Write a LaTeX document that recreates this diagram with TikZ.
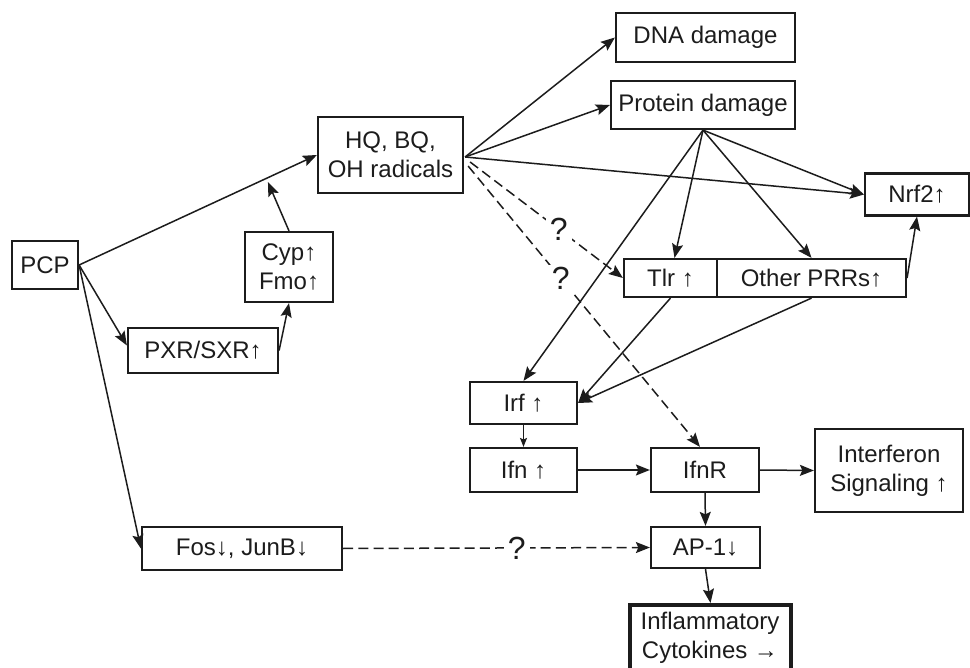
\documentclass[tikz,border=0pt]{standalone}
\usepackage{fontspec}
\setmainfont{Liberation Sans}
\usetikzlibrary{arrows.meta}
\definecolor{ink}{HTML}{1C1C1C}
\begin{document}
\begin{tikzpicture}[x=0.5pt,y=-0.5pt,
  box/.style={draw=ink, line width=1.1pt, inner sep=0pt, align=center,
    font=\fontsize{12}{14.5}\selectfont, text=ink},
  arr/.style={draw=ink, line width=0.75pt,
    -{Stealth[length=7pt,width=5.5pt,inset=1.2pt]}},
  arrsmall/.style={draw=ink, line width=0.6pt,
    -{Stealth[length=4.5pt,width=3.5pt,inset=0.8pt]}},
  dsh/.style={arr, dash pattern=on 5pt off 2.6pt},
  qm/.style={fill=white, inner xsep=2pt, inner ysep=1pt,
    font=\fontsize{16}{16}\selectfont, text=ink}]
\useasboundingbox (0,0) rectangle (970,668);
\clip (0,0) rectangle (970,668);
\fill[white] (0,0) rectangle (970,668);

% nodes
\node[box, minimum width=33pt, minimum height=24pt] (pcp) at (45,265) {PCP};
\node[box, minimum width=75pt, minimum height=22.5pt] (pxr) at (203,350.5) {PXR/SXR↑};
\node[box, minimum width=44pt, minimum height=35pt] (cyp) at (289,267) {Cyp↑\\Fmo↑};
\node[box, minimum width=72.5pt, minimum height=38pt] (hq) at (390.5,155) {HQ, BQ,\\OH radicals};
\node[box, minimum width=89.5pt, minimum height=24.5pt] (dna) at (705.5,37.5) {DNA damage};
\node[box, minimum width=92pt, minimum height=24pt] (prot) at (703,105) {Protein damage};
\node[box, minimum width=52pt, minimum height=21pt] (nrf) at (917,194.5) {Nrf2↑};
\node[box, minimum width=46.5pt, minimum height=19pt] (tlr) at (670.5,278) {Tlr ↑};
\node[box, minimum width=94.5pt, minimum height=19pt] (prr) at (811.5,278) {Other PRRs↑};
\node[box, minimum width=53.5pt, minimum height=21pt] (irf) at (523.5,403) {Irf ↑};
\node[box, minimum width=53.5pt, minimum height=22pt] (ifn) at (523.5,470) {Ifn ↑};
\node[box, minimum width=54pt, minimum height=22pt] (ifnr) at (705,470) {IfnR};
\node[box, minimum width=74pt, minimum height=41.5pt] (isig) at (889,470.5) {Interferon\\Signaling ↑};
\node[box, minimum width=54.5pt, minimum height=20.5pt] (ap1) at (705.5,547.5) {AP-1↓};
\node[box, minimum width=100pt, minimum height=21.5pt] (fos) at (242,548.5) {Fos↓, JunB↓};
\node[box, line width=1.8pt, anchor=north, minimum width=80.5pt, minimum height=50pt] (infl) at (710.5,603) {};
\node[align=center, inner sep=0pt, font=\fontsize{12}{14.5}\selectfont, text=ink] (infltxt) at (710,637.5) {Inflammatory\\Cytokines →};

% connectors from PCP
\draw[arr] (pcp.east) -- coordinate[pos=0.7875] (cat) (hq.west);
\draw[arr] (pcp.east) -- ([yshift=2.5pt]pxr.west);
\draw[arr] (pcp.east) -- (fos.west);
\draw[arr] (pxr.east) -- (cyp.south);
\draw[arr, shorten >=2pt] (cyp.north) -- (cat);

% from HQ
\coordinate (hqo) at ([xshift=0.5pt,yshift=-1pt]hq.east);
\draw[arr] (hqo) -- (dna.west);
\draw[arr] (hqo) -- (prot.west);
\draw[arr] (hqo) -- (nrf.west);
\draw[dsh] ([xshift=3pt,yshift=-3.5pt]hq.east) -- node[qm, pos=0.58] (q1) {?} (tlr.west);
\draw[dsh] ([xshift=2pt,yshift=-5.5pt]hq.east) -- node[qm, pos=0.40] (q2) {?} ([xshift=-2.5pt]ifnr.north);

% from Protein damage
\draw[arr] (prot.south) -- ([xshift=2pt]tlr.north);
\draw[arr] (prot.south) -- (prr.north);
\draw[arr] (prot.south) -- (nrf.west);
\draw[arr] (prot.south) -- (irf.north);

% PRRs
\draw[arr] (tlr.south) -- (irf.east);
\draw[arr] (prr.south) -- (irf.east);
\draw[arr] (prr.east) -- (nrf.south);

% lower chain
\draw[arrsmall] (irf.south) -- (ifn.north);
\draw[arr] (ifn.east) -- (ifnr.west);
\draw[arr] (ifnr.east) -- (isig.west);
\draw[arr] (ifnr.south) -- (ap1.north);
\draw[arr] (ap1.south) -- (infl.north);
\draw[dsh] (fos.east) -- node[qm, pos=0.566] (q3) {?} (ap1.west);
\end{tikzpicture}
\end{document}
